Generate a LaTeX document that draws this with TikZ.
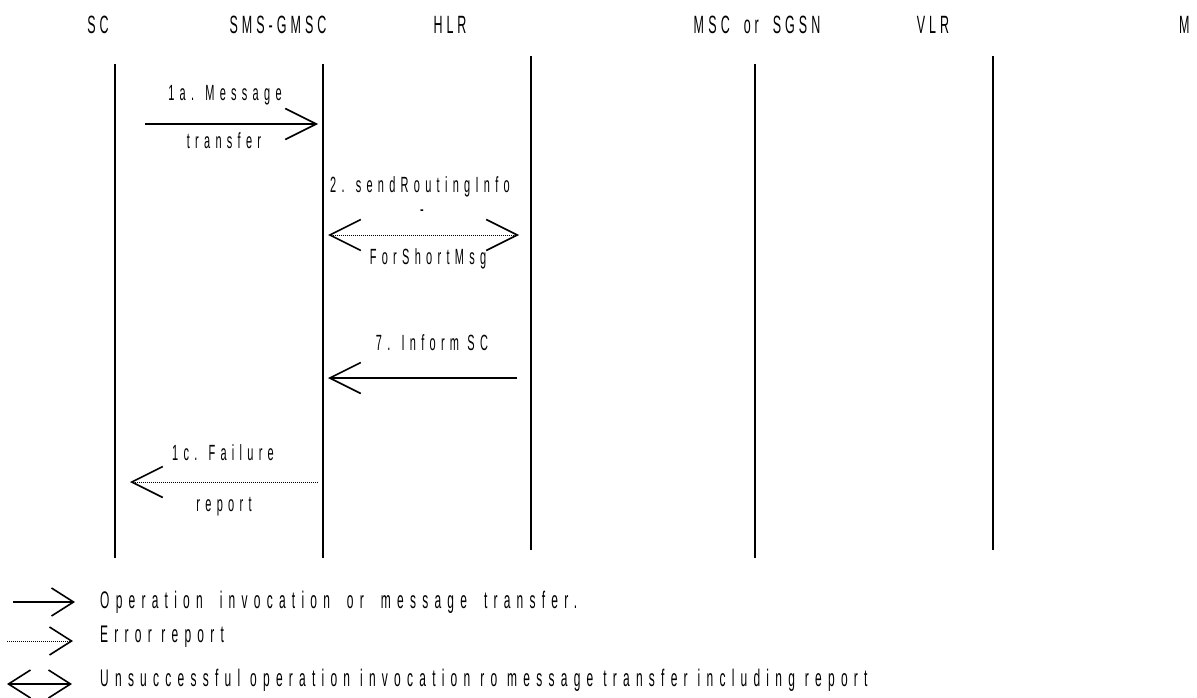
\documentclass[tikz,border=0pt]{standalone}
\usepackage{fontspec}
\usetikzlibrary{arrows.meta}
\newfontfamily\nfont[FakeStretch=0.5,LetterSpace=24]{Liberation Sans}
\newfontfamily\gfont[FakeStretch=0.5,LetterSpace=26]{Liberation Sans}
\newfontfamily\hfont[FakeStretch=0.5,LetterSpace=16]{Liberation Sans}
\tikzset{barb/.tip={Straight Barb[length=31pt,width=31pt,line width=1.6pt]},
  lbarb/.tip={Straight Barb[length=22pt,width=28pt,line width=1.6pt]}}
\begin{document}
\begin{tikzpicture}[x=1pt,y=-1pt,
  lbl/.style={font=\nfont\fontsize{22}{26}\selectfont, inner sep=0pt},
  leg/.style={font=\gfont\fontsize{24}{28}\selectfont, inner sep=0pt, anchor=west},
  hdr/.style={font=\hfont\fontsize{25}{30}\selectfont, inner sep=0pt},
  life/.style={line width=1.8pt},
  msg/.style={line width=1.6pt},
  err/.style={line width=1pt, dash pattern=on 1pt off 1pt}]
\useasboundingbox (0,0) rectangle (1197,698);
% headers
\node[hdr] (hsc) at (98,25) {SC};
\node[hdr] (hgmsc) at (278,25) {SMS-GMSC};
\node[hdr] (hhlr) at (450,25) {HLR};
\node[hdr] (hmsc) at (757,25) {\spaceskip=14pt\relax M\,S\,C or SGSN};
\node[hdr] (hvlr) at (933,25) {VLR};
\node[hdr,anchor=west] (hms) at (1179,25) {M};
% lifelines
\coordinate (sct) at (115,64);  \coordinate (scb) at (115,558);
\coordinate (gt) at (323,64);   \coordinate (gb) at (323,558);
\coordinate (ht) at (531,56);   \coordinate (hb) at (531,550);
\coordinate (mt) at (755,64);   \coordinate (mb) at (755,558);
\coordinate (vt) at (993,56);   \coordinate (vb) at (993,550);
\draw[life] (sct) -- (scb);
\draw[life] (gt) -- (gb);
\draw[life] (ht) -- (hb);
\draw[life] (mt) -- (mb);
\draw[life] (vt) -- (vb);
% message endpoints
\coordinate (m1s) at (145,124); \coordinate (m1e) at (318,124);
\coordinate (m2s) at (328,235); \coordinate (m2e) at (519,235);
\coordinate (m7s) at (517,378); \coordinate (m7e) at (328,378);
\coordinate (m1cs) at (318,482); \coordinate (m1ce) at (130,482);
\draw[msg,-barb] (m1s) -- (m1e);
\draw[err,barb-barb] (m2s) -- (m2e);
\draw[msg,-barb] (m7s) -- (m7e);
\draw[err,-barb] (m1cs) -- (m1ce);
% labels
\node[lbl] (l1a) at (225,95) {1a. Message};
\node[lbl] (l1b) at (224,141) {transfer};
\node[lbl] (l2a) at (420,187) {2. sendRoutingInfo};
\node[lbl, text height=8pt, text depth=0pt] (l2b) at (422,212) {-};
\node[lbl] (l2c) at (428,259) {ForShortMsg};
\node[lbl] (l7) at (432,343) {7. Inform SC};
\node[lbl] (l1c) at (223,453) {1c. Failure};
\node[lbl] (l1d) at (224,507) {report};
% legend
\coordinate (g1s) at (13,602); \coordinate (g1e) at (75,602);
\coordinate (g2s) at (7,641);  \coordinate (g2e) at (73,641);
\coordinate (g3s) at (7,684);  \coordinate (g3e) at (72,684);
\draw[msg,-lbarb] (g1s) -- (g1e);
\draw[err,-lbarb] (g2s) -- (g2e);
\draw[msg,lbarb-lbarb] (g3s) -- (g3e);
\node[leg] (t1) at (100,602) {\spaceskip=17pt\relax Operation invocation or message transfer.};
\node[leg] (t2) at (100,637) {Error report};
\node[leg] (t3) at (100,680) {\spaceskip=10pt\relax Unsuccessful operation invocation ro message transfer including report};
\end{tikzpicture}
\end{document}
